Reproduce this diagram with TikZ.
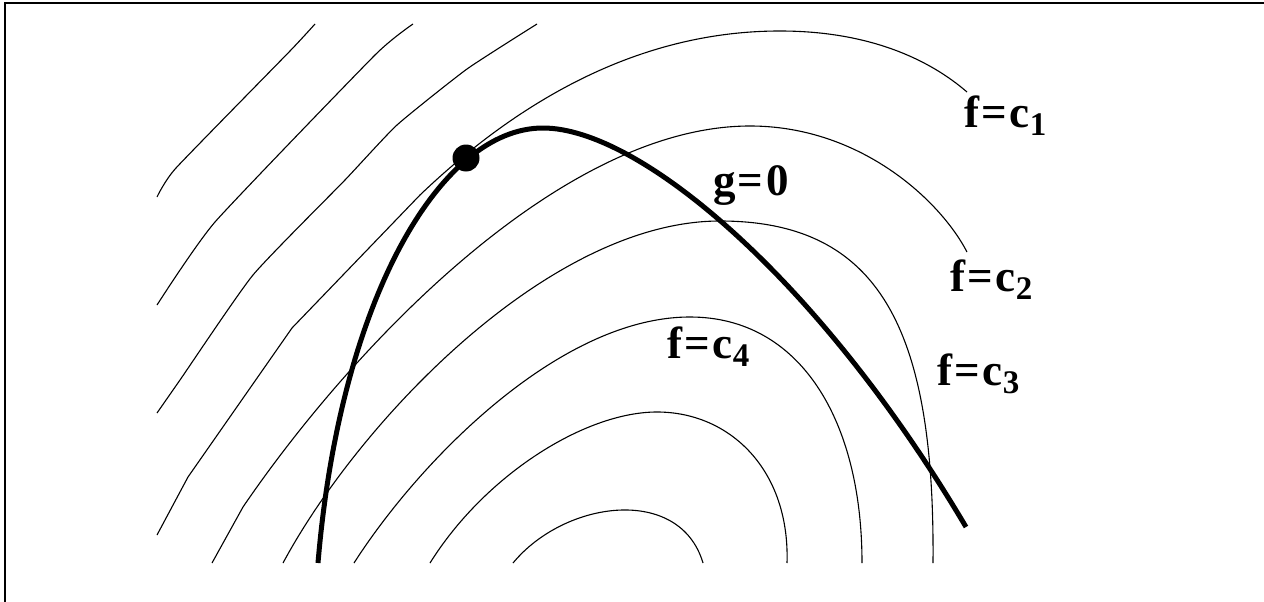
\documentclass[tikz,border=0pt]{standalone}
\usepackage{fontspec}
\setmainfont{Liberation Serif}
\newcommand\lsub[1]{\raisebox{-8pt}{\fontsize{33}{33}\selectfont #1}}
\newcommand\eqs{\kern2pt=\kern3pt}
\begin{document}
\begin{tikzpicture}[x=1pt,y=-1pt,
  contour/.style={line width=1.1pt, line join=round},
  constraint/.style={line width=5pt, line join=round},
  lbl/.style={anchor=base west, inner sep=0pt, font=\fontsize{45}{50}\selectfont\bfseries}]
\useasboundingbox (0,0) rectangle (1264,602);
% frame (top and left only)
\draw[line width=2pt] (1264,3) -- (5,3) -- (5,602);
% contours, outermost first
\draw[contour] plot[smooth, tension=0.3] coordinates {(157,197) (176,168) (290,51) (315,24)};
\draw[contour] plot[smooth, tension=0.3] coordinates {(157,305) (215,222) (375,55) (413,24)};
\draw[contour] plot[smooth, tension=0.3] coordinates {(157,413) (180,380) (253,275) (345,180) (397,125) (467,69) (537,24)};
\draw[contour] (157,535) -- (188,477) -- (292,328) -- (420,195)
  .. controls (530,90) and (650,31) .. (780,31)
  .. controls (870,31) and (930,60) .. (967,92);
\draw[contour] (212,563) -- (243,507)
  .. controls (350,350) and (560,126) .. (750,126)
  .. controls (860,126) and (940,200) .. (967,252);
\draw[contour] (283,563) .. controls (360,420) and (550,221) .. (720,221)
  .. controls (880,221) and (935,330) .. (933,563);
\draw[contour] (354,563) .. controls (420,460) and (560,317) .. (690,317)
  .. controls (800,317) and (862,420) .. (862,563);
\draw[contour] (430,563) .. controls (485,475) and (585,412) .. (657,412)
  .. controls (730,412) and (790,470) .. (787,563);
\draw[contour] (513,563) .. controls (565,500) and (680,485) .. (703,563);
% constraint g=0
\draw[constraint] (318,563) .. controls (340,300) and (440,128) .. (543,128)
  .. controls (640,128) and (820,280) .. (966,527);
\node[circle, fill=black, inner sep=0pt, minimum size=27pt] (opt) at (466,158) {};
% labels
\node[lbl] (c1) at (964,128) {f\eqs c\lsub{1}};
\node[lbl] (c2) at (950,291) {f\eqs c\lsub{2}};
\node[lbl] (c3) at (937,385) {f\eqs c\lsub{3}};
\node[lbl] (c4) at (667,358) {f\eqs c\lsub{4}};
\node[lbl] (g0) at (713,195) {g\eqs 0};
\end{tikzpicture}
\end{document}
